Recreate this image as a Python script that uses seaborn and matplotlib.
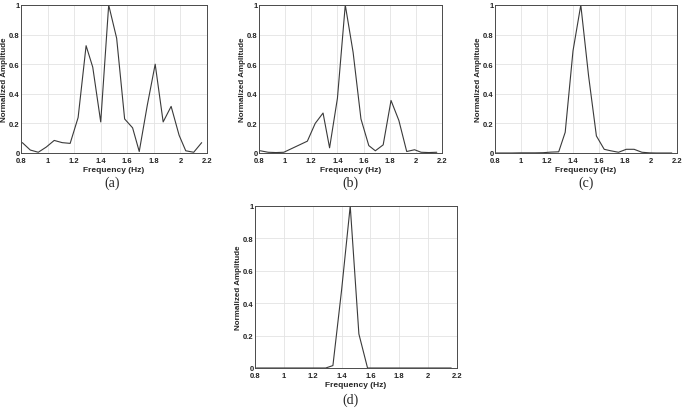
import numpy as np
import pandas as pd
import matplotlib
matplotlib.use("Agg")
import matplotlib.pyplot as plt
import seaborn as sns
from matplotlib.ticker import FuncFormatter

# =========================
# DATA
# =========================
freq = [0.81, 0.87, 0.93, 0.99, 1.05, 1.11, 1.17, 1.23, 1.29, 1.34, 1.40, 1.46,
        1.52, 1.58, 1.64, 1.69, 1.75, 1.81, 1.87, 1.93, 1.99, 2.04, 2.10, 2.16]

amp_a = [0.07, 0.02, 0.005, 0.04, 0.085, 0.07, 0.065, 0.24, 0.725, 0.58, 0.21, 1.0,
         0.775, 0.23, 0.17, 0.01, 0.32, 0.60, 0.21, 0.315, 0.12, 0.015, 0.005, 0.07]

amp_b = [0.015, 0.005, 0.003, 0.005, 0.03, 0.055, 0.08, 0.2, 0.27, 0.035, 0.37, 1.0,
         0.68, 0.23, 0.05, 0.015, 0.055, 0.355, 0.22, 0.01, 0.022, 0.005, 0.003, 0.005]

amp_c = [0.0, 0.0, 0.0, 0.001, 0.001, 0.001, 0.002, 0.006, 0.008, 0.14, 0.69, 1.0,
         0.52, 0.115, 0.025, 0.015, 0.005, 0.025, 0.025, 0.005, 0.001, 0.0, 0.0, 0.0]

amp_d = [0.0, 0.0, 0.0, 0.0, 0.0, 0.0, 0.0, 0.0, 0.0, 0.015, 0.48, 1.0,
         0.21, 0.0, 0.0, 0.0, 0.0, 0.0, 0.0, 0.0, 0.0, 0.0, 0.0, 0.0]

panels = ["(a)", "(b)", "(c)", "(d)"]
series = [amp_a, amp_b, amp_c, amp_d]

x_ticks = [0.8, 1.0, 1.2, 1.4, 1.6, 1.8, 2.0, 2.2]
y_ticks = [0, 0.2, 0.4, 0.6, 0.8, 1.0]

# =========================
# STYLE
# =========================
sns.set_style("whitegrid")
plt.rcParams['font.family'] = ['Liberation Sans', 'DejaVu Sans']

W, H = 685, 410
fig = plt.figure(figsize=(W / 100, H / 100), dpi=100)

# axes boxes in pixels: left, right, top, bottom
boxes = [(21, 207, 6, 154),
         (259, 442, 6, 154),
         (495, 677, 6, 154),
         (255, 457, 207, 369)]
# caption centres in pixels
captions = [(112, 183), (350, 183), (586, 183), (350, 400)]

def fmt(v, pos):
    return "%g" % round(v, 2)

for (l, r, t, b), amp, lab, (cx, cy) in zip(boxes, series, panels, captions):
    ax = fig.add_axes([l / W, 1 - b / H, (r - l) / W, (b - t) / H])
    df = pd.DataFrame({"Frequency": freq, "Amplitude": amp})
    sns.lineplot(data=df, x="Frequency", y="Amplitude", ax=ax,
                 color="#3a3a3a", linewidth=0.8)
    ax.set_xlim(0.8, 2.2)
    ax.set_ylim(0, 1)
    ax.set_xticks(x_ticks)
    ax.set_yticks(y_ticks)
    ax.xaxis.set_major_formatter(FuncFormatter(fmt))
    ax.yaxis.set_major_formatter(FuncFormatter(fmt))
    ax.grid(True, color="#e3e3e3", linewidth=0.6)
    for s in ax.spines.values():
        s.set_color("#4a4a4a")
        s.set_linewidth(0.7)
    ax.tick_params(direction="in", length=2, width=0.6,
                   labelsize=5.5, colors="#222222")
    ax.tick_params(axis="x", pad=3)
    ax.tick_params(axis="y", pad=1)
    for tl in ax.get_xticklabels() + ax.get_yticklabels():
        tl.set_fontweight("bold")
    ax.set_xlabel("Frequency (Hz)", fontsize=6, fontweight="bold", labelpad=1)
    ax.set_ylabel("Normalized Amplitude", fontsize=5.8, fontweight="bold", labelpad=0.5)
    fig.text(cx / W, 1 - cy / H, lab, ha="center", va="center",
             fontsize=10, family="Liberation Serif")

fig.savefig("out.png", dpi=100, facecolor="white")
